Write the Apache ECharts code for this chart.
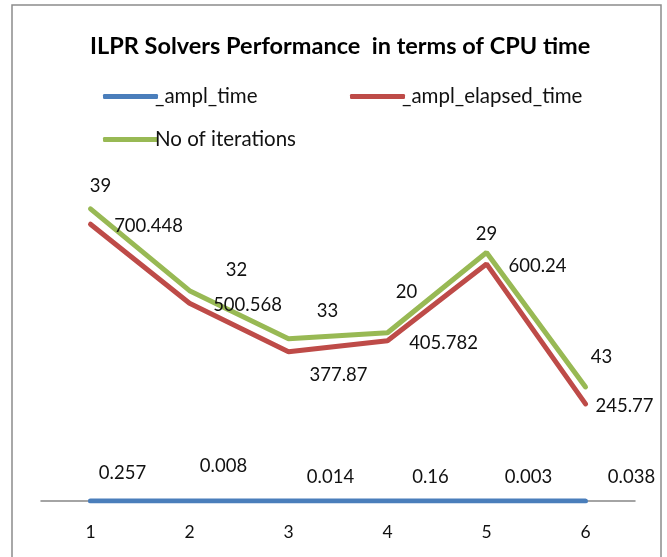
<!DOCTYPE html>
<html><head><meta charset="utf-8">
<script src="https://cdn.jsdelivr.net/npm/echarts@6/dist/echarts.min.js"></script>
<style>html,body{margin:0;padding:0;background:#fff}#c{width:667px;height:557px}</style>
</head><body><div id="c"></div>
<script>
const categories = ['1','2','3','4','5','6'];
const amplTime = [0.257, 0.008, 0.014, 0.16, 0.003, 0.038];
const amplElapsed = [700.448, 500.568, 377.87, 405.782, 600.24, 245.77];
const iterations = [39, 32, 33, 20, 29, 43];

// label offsets (style only)
const blueOff = [[32,-28],[34,-35],[42,-24],[43,-24],[42,-24],[46,-24]];
const redOff = [[58,2],[58,2],[50,23],[56,2],[51,2],[39,2]];
const greenOff = [[10,-23],[47,-21],[39,-28],[19,-41],[0,-18],[16,-30]];

const FONT = 'Lato';
function build(vals, offs){
  return vals.map((v,i)=>({value:v, label:{offset:offs[i]}}));
}
const lbl = {show:true, position:'inside', align:'center', verticalAlign:'middle',
  fontFamily:FONT, fontSize:18.5, color:'#111', formatter:p=>String(p.value)};
const legText = {fontFamily:FONT,fontSize:20.5,color:'#111',padding:[0,0,0,-8]};

const chart = echarts.init(document.getElementById('c'), null, {renderer:'canvas'});
chart.setOption({
  animation:false,
  backgroundColor:'#fff',
  title:{text:'ILPR Solvers Performance  in terms of CPU time', left:85, top:29,
    textStyle:{fontFamily:FONT, fontSize:23.5, fontWeight:'bold', color:'#000'}},
  legend:[
    {data:['_ampl_time'], left:98, top:81, itemWidth:55, itemHeight:5,
     icon:'roundRect', textStyle:legText},
    {data:['_ampl_elapsed_time'], left:345, top:81, itemWidth:55, itemHeight:5,
     icon:'roundRect', textStyle:legText},
    {data:['No of iterations'], left:98, top:124, itemWidth:55, itemHeight:5,
     icon:'roundRect', textStyle:legText}
  ],
  graphic:[{type:'rect', shape:{x:12,y:5,width:649,height:570},
    style:{fill:'none', stroke:'#8c8c8c', lineWidth:1.5}, silent:true, z:-1}],
  grid:{left:41, right:32, top:185, bottom:56},
  xAxis:{type:'category', data:categories, boundaryGap:true,
    axisLine:{lineStyle:{color:'#868686', width:1.5}}, axisTick:{show:false},
    axisLabel:{fontFamily:FONT, fontSize:17.5, color:'#111', margin:22}},
  yAxis:{type:'value', min:0, max:800, show:false, splitLine:{show:false}},
  series:[
    {name:'_ampl_time', type:'line', stack:'t', data:build(amplTime,blueOff),
     symbol:'circle', symbolSize:1, color:'#4A7EBB',
     lineStyle:{width:5, color:'#4A7EBB', cap:'round'}, label:lbl, z:3},
    {name:'_ampl_elapsed_time', type:'line', stack:'t', data:build(amplElapsed,redOff),
     symbol:'circle', symbolSize:1, color:'#BE4B48',
     lineStyle:{width:5, color:'#BE4B48', cap:'round'}, label:lbl, z:3},
    {name:'No of iterations', type:'line', stack:'t', data:build(iterations,greenOff),
     symbol:'circle', symbolSize:1, color:'#98B954',
     lineStyle:{width:5, color:'#98B954', cap:'round'}, label:lbl, z:3}
  ]
});
</script></body></html>
